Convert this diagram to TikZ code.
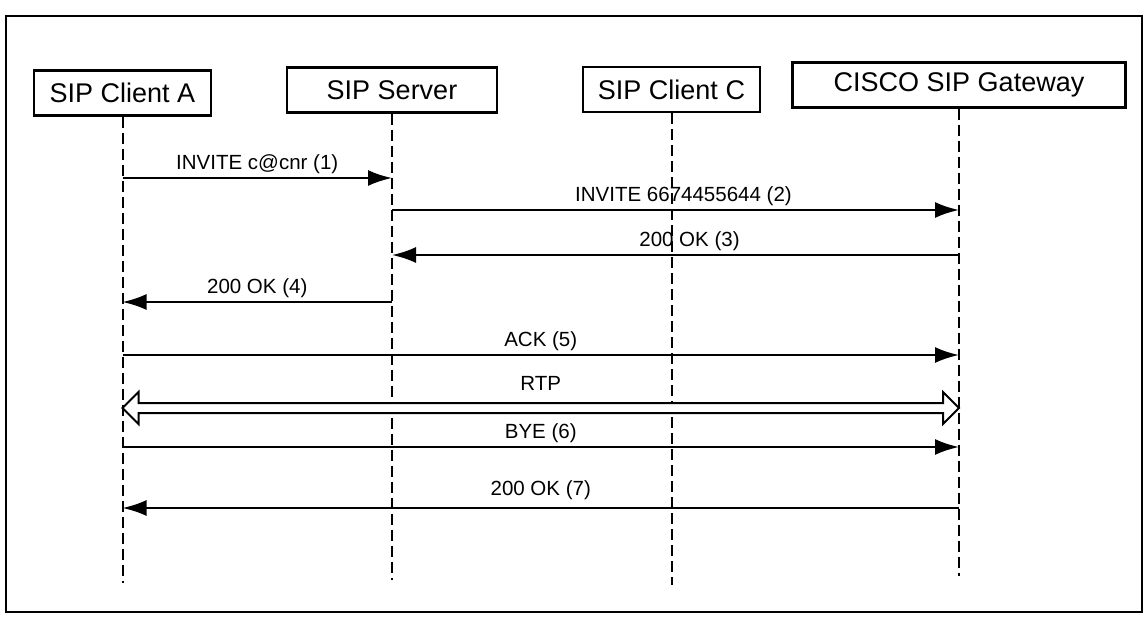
\documentclass[tikz,border=0pt]{standalone}
\usepackage{fontspec}
\setmainfont{Liberation Sans}
\usetikzlibrary{arrows.meta,calc}

\begin{document}
\begin{tikzpicture}[
            x=1pt, y=1pt,
            every node/.style={font=\fontsize{20.5}{23}\selectfont},
            actor/.style={draw, line width=2.2pt, minimum height=45pt, inner sep=2pt, font=\fontsize{27}{31}\selectfont},
            lifeline/.style={line width=2pt, dash pattern=on 11pt off 5pt},
            msg/.style={-{Latex[length=24pt,width=16pt]}, line width=2.2pt},
            blockarrow/.style={line width=2pt, fill=white, line join=miter},
            lbl/.style={above, inner sep=3pt}
        ]

        % Frame and page size
        \useasboundingbox (0,0) rectangle (1146,-621);
        \draw[line width=2.4pt] (6,-16) rectangle (1142,-612);

        % Participants
        \node[actor, minimum width=177pt] (clientA) at (122.5,-93) {SIP Client A};
        \node[actor, minimum width=210pt] (server) at (392,-90) {SIP Server};
        \node[actor, minimum width=177pt] (clientC) at (671.5,-89.5) {SIP Client C};
        \node[actor, minimum width=333pt] (gateway) at (959,-85) {CISCO SIP Gateway};

        % Lifelines
        \draw[lifeline] (clientA.south) -- (clientA |- 0,-583);
        \draw[lifeline] (server.south) -- (server |- 0,-580);
        \draw[lifeline] (clientC.south) -- (clientC |- 0,-585);
        \draw[lifeline] (gateway.south) -- (gateway |- 0,-576);

        % === MESSAGES ===

        % INVITE from A to the server (1)
        \draw[msg] (clientA |- 0,-178) -- node[lbl] {INVITE c@cnr (1)} (server |- 0,-178);

        % INVITE from the server to the gateway (2)
        \draw[msg] (server |- 0,-210) -- node[lbl, xshift=8pt] {INVITE 6674455644 (2)} (gateway |- 0,-210);

        % 200 OK back to the server (3)
        \draw[msg] (gateway |- 0,-255) -- node[lbl, xshift=14pt] {200 OK (3)} (server |- 0,-255);

        % 200 OK back to A (4)
        \draw[msg] (server |- 0,-302) -- node[lbl] {200 OK (4)} (clientA |- 0,-302);

        % ACK (5)
        \draw[msg] (clientA |- 0,-355) -- node[lbl] {ACK (5)} (gateway |- 0,-355);

        % RTP media stream, both ways
        \coordinate (rtpL) at (clientA |- 0,-408);
        \coordinate (rtpR) at (gateway |- 0,-408);
        \draw[blockarrow] (rtpL) -- ++(16,16) -- ++(0,-11) -- ([xshift=-16pt,yshift=5pt]rtpR)
            -- ++(0,11) -- (rtpR) -- ++(-16,-16) -- ++(0,11) -- ([xshift=16pt,yshift=-5pt]rtpL)
            -- ++(0,-11) -- cycle;
        \node[lbl] (rtp) at ($(rtpL)!0.5!(rtpR)+(0,14)$) {RTP};

        % BYE (6)
        \draw[msg] (clientA |- 0,-447) -- node[lbl] {BYE (6)} (gateway |- 0,-447);

        % 200 OK back to A (7)
        \draw[msg] (gateway |- 0,-508) -- node[lbl, yshift=4pt] {200 OK (7)} (clientA |- 0,-508);

    \end{tikzpicture}
\end{document}
